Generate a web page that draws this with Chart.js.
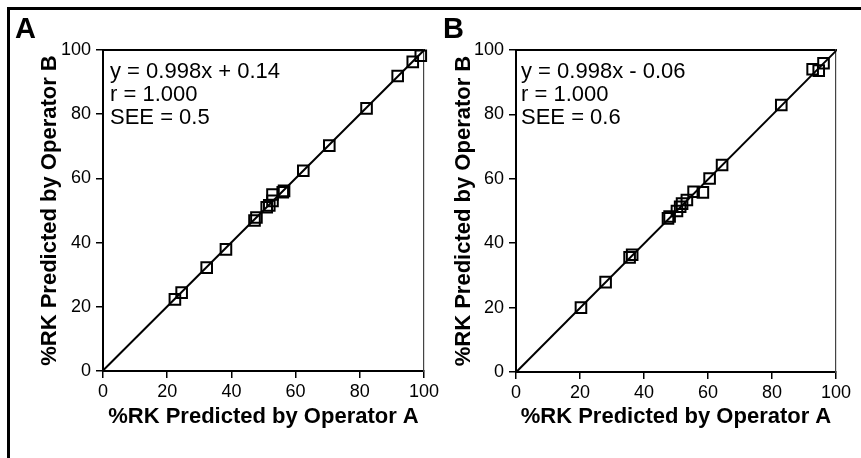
<!DOCTYPE html>
<html>
<head>
<meta charset="utf-8">
<script src="https://cdn.jsdelivr.net/npm/chart.js@4.4.0/dist/chart.umd.min.js"></script>
<style>
    html, body { margin: 0; padding: 0; background: #fff; }
    body { width: 861px; height: 458px; position: relative; overflow: hidden;
           font-family: "Liberation Sans", Arial, Helvetica, sans-serif; }
    .frame { position: absolute; left: 7px; top: 7px; width: 860px; height: 460px;
             border-top: 3px solid #000; border-left: 3px solid #000; }
    canvas { position: absolute; top: 0; }
    #chartA { left: 0; }
    #chartB { left: 430px; }
    .letter { position: absolute; font-weight: bold; font-size: 29px; line-height: 28px; color: #000; }
    .note { position: absolute; font-size: 22px; line-height: 23px; color: #000; white-space: pre; }
</style>
</head>
<body>
<div class="frame"></div>
<canvas id="chartA" width="446" height="458"></canvas>
<canvas id="chartB" width="431" height="458"></canvas>
<div class="letter" style="left:15px; top:14px;">A</div>
<div class="letter" style="left:443px; top:14px;">B</div>
<div class="note" style="left:110px; top:59px;">y = 0.998x + 0.14<br>r = 1.000<br>SEE = 0.5</div>
<div class="note" style="left:521px; top:59px;">y = 0.998x - 0.06<br>r = 1.000<br>SEE = 0.6</div>
<script>
// valori
const tickValues = [0, 20, 40, 60, 80, 100];

const opAX_A = [22.4, 24.5, 32.3, 38.3, 47.2, 47.8, 51.0, 51.8, 52.8, 52.8, 56.0, 56.4, 62.4, 70.5, 82.1, 91.8, 96.5, 99.0];
const opBY_A = [22.3, 24.4, 32.2, 37.9, 46.9, 47.8, 51.0, 51.6, 53.0, 55.0, 55.7, 56.1, 62.4, 70.2, 81.8, 91.9, 96.3, 98.2];
const fitX_A = [0, 100];
const fitY_A = [0.14, 99.94];

const opAX_B = [20.3, 28.0, 35.5, 36.3, 47.5, 48.0, 50.3, 51.3, 51.9, 53.4, 55.5, 58.4, 60.5, 64.4, 82.9, 92.7, 94.6, 96.1];
const opBY_B = [20.0, 27.9, 35.6, 36.4, 47.7, 48.3, 50.0, 51.3, 52.3, 53.4, 56.0, 55.8, 60.1, 64.3, 82.9, 94.0, 93.6, 95.9];
const fitX_B = [0, 100];
const fitY_B = [-0.06, 99.74];

const FONT = '"Liberation Sans", Arial, Helvetica, sans-serif';

function toPoints(xs, ys) {
    return xs.map((x, i) => ({ x: x, y: ys[i] }));
}

function makePanel(canvas, xs, ys, fx, fy, box) {
    const baseScale = {
        type: 'linear',
        min: 0,
        max: 100,
        afterBuildTicks: s => { s.ticks = tickValues.map(v => ({ value: v })); }
    };
    return new Chart(canvas, {
        type: 'scatter',
        data: {
            datasets: [{
                data: toPoints(xs, ys),
                pointStyle: 'rect',
                pointRadius: 7.5,
                pointHoverRadius: 7.5,
                borderWidth: 2,
                borderColor: '#000',
                backgroundColor: 'rgba(0,0,0,0)',
                showLine: false,
                clip: false
            }, {
                data: toPoints(fx, fy),
                showLine: true,
                borderColor: '#000',
                borderWidth: 2,
                pointRadius: 0,
                clip: false
            }]
        },
        options: {
            responsive: false,
            animation: false,
            events: [],
            layout: { padding: { top: 50, left: 0, right: box.right, bottom: 0 } },
            plugins: { legend: { display: false }, tooltip: { enabled: false } },
            scales: {
                x: {
                    ...baseScale,
                    position: 'bottom',
                    afterFit: s => {
                        s.height = 458 - box.bottom;
                        // fără spațiu suplimentar pentru etichetele de la margini
                        s.paddingLeft = 0;
                        s.paddingRight = 0;
                    },
                    grid: { drawOnChartArea: false, color: '#000', lineWidth: 1.5, tickLength: 7 },
                    border: { color: '#000', width: 2 },
                    ticks: { color: '#000', font: { family: FONT, size: 18 }, padding: 3, maxRotation: 0, autoSkip: false },
                    title: {
                        display: true,
                        text: '%RK Predicted by Operator A',
                        color: '#000',
                        font: { family: FONT, size: 22, weight: 'bold' },
                        padding: { top: 0, bottom: 28 }
                    }
                },
                y: {
                    ...baseScale,
                    position: 'left',
                    afterFit: s => {
                        s.width = box.left;
                        s.paddingTop = 0;
                        s.paddingBottom = 0;
                    },
                    grid: { drawOnChartArea: false, color: '#000', lineWidth: 1.5, tickLength: 7 },
                    border: { color: '#000', width: 2 },
                    ticks: { color: '#000', font: { family: FONT, size: 18 }, padding: 5, autoSkip: false },
                    title: {
                        display: true,
                        text: '%RK Predicted by Operator B',
                        color: '#000',
                        font: { family: FONT, size: 22, weight: 'bold' },
                        padding: { top: box.titleX - 13.2, bottom: 0 }
                    }
                },
                xTop: {
                    ...baseScale,
                    position: 'top',
                    afterFit: s => { s.height = 0; },
                    grid: { drawOnChartArea: false, drawTicks: false },
                    border: { color: '#000', width: 2 },
                    ticks: { display: false }
                },
                yRight: {
                    ...baseScale,
                    position: 'right',
                    afterFit: s => { s.width = 0; },
                    grid: { drawOnChartArea: false, drawTicks: false },
                    border: { color: '#444', width: 1.2, dash: [1, 2] },
                    ticks: { display: false }
                }
            }
        }
    });
}

document.addEventListener('DOMContentLoaded', () => {
    makePanel(document.getElementById('chartA'), opAX_A, opBY_A, fitX_A, fitY_A,
        { left: 103, right: 22, bottom: 371, titleX: 50 });
    makePanel(document.getElementById('chartB'), opAX_B, opBY_B, fitX_B, fitY_B,
        { left: 86, right: 25, bottom: 372, titleX: 34 });
});
</script>
</body>
</html>
